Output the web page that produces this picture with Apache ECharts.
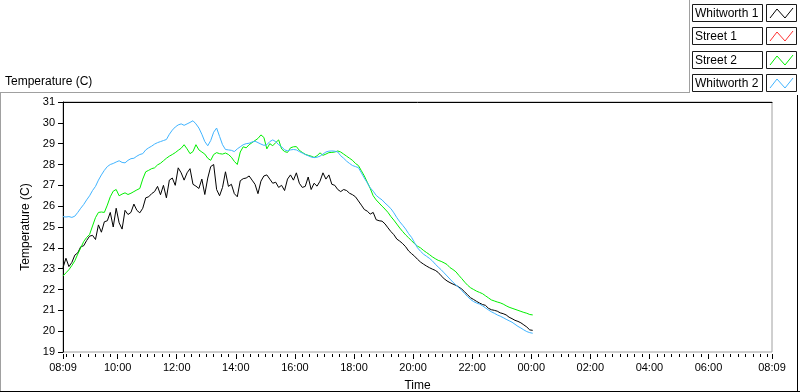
<!DOCTYPE html>
<html>
<head>
<meta charset="utf-8">
<title>Temperature (C)</title>
<script src="https://cdn.jsdelivr.net/npm/echarts@6/dist/echarts.min.js"></script>
<style>
  html, body { margin: 0; padding: 0; background: #fff; }
  #chart { width: 800px; height: 392px; }
</style>
</head>
<body>
<div id="chart"></div>
<script>
// time axis: 24h window starting at 08:09, samples every 6 min
const START_TIME = '08:09'
const STEP_MIN = 6
const SPAN_MIN = 1440
const LABEL_TIMES = ['08:09', '10:00', '12:00', '14:00', '16:00', '18:00', '20:00', '22:00', '00:00', '02:00', '04:00', '06:00', '08:09']

const Y_MIN = 19
const Y_MAX = 31

const SERIES_NAMES = ['Whitworth 1', 'Street 1', 'Street 2', 'Whitworth 2']
const SERIES_COLORS = ['#000000', '#ff3030', '#00f000', '#40b4ff']

const whitworth1 = [
  23.05, 23.5, 23.1, 23.3, 23.65, 23.76, 24.05, 24.1, 24.35, 24.56,
  24.6, 24.4, 25.1, 24.75, 25.25, 25.3, 25.7, 25.0, 25.9, 25.2,
  24.9, 25.8, 25.6, 25.7, 26.1, 25.8, 25.68, 25.9, 26.4, 26.45,
  26.6, 26.7, 26.95, 26.55, 27.0, 26.4, 27.25, 27.35, 27.0, 27.84,
  27.6, 27.25, 27.6, 27.8, 27.05, 26.96, 26.85, 27.3, 26.56, 27.35,
  27.9, 28.0, 26.8, 26.5, 26.9, 27.65, 26.95, 27.05, 26.6, 26.45,
  27.22, 27.32, 27.35, 27.45, 27.25, 27.05, 26.6, 27.2, 27.45, 27.5,
  27.3, 27.1, 27.15, 26.9, 27.0, 26.75, 27.3, 27.5, 27.25, 27.6,
  27.1, 26.9, 26.95, 27.4, 26.8, 27.1, 26.96, 27.2, 27.6, 27.3,
  27.5, 27.05, 27.0, 26.8, 26.7, 26.8, 26.75, 26.62, 26.55, 26.45,
  26.25, 26.05, 25.84, 25.76, 25.62, 25.7, 25.35, 25.3, 25.28, 25.15,
  24.96, 24.78, 24.63, 24.42, 24.32, 24.2, 24.05, 23.85, 23.72, 23.6,
  23.45, 23.32, 23.22, 23.13, 23.05, 22.98, 22.92, 22.82, 22.66, 22.52,
  22.41, 22.33, 22.26, 22.2, 22.12, 22.02, 21.88, 21.74, 21.6, 21.52,
  21.43, 21.35, 21.28, 21.24, 21.1, 21.03, 21.0, 20.96, 20.88, 20.84,
  20.78, 20.67, 20.6, 20.52, 20.47, 20.4, 20.3, 20.2, 20.06, 20.04
]

// no readings for Street 1 in this window
const street1 = []

const street2 = [
  22.65, 22.8, 22.95, 23.15, 23.38, 23.7, 24.0, 24.3, 24.5, 24.64,
  25.05, 25.45, 25.7, 25.72, 25.7, 26.05, 26.45, 26.72, 26.8, 26.5,
  26.58, 26.64, 26.56, 26.62, 26.7, 26.78, 26.85, 27.3, 27.65, 27.72,
  27.8, 27.84, 27.98, 28.06, 28.18, 28.3, 28.4, 28.48, 28.57, 28.68,
  28.78, 28.95, 28.75, 28.52, 28.62, 28.95, 28.7, 28.6, 28.5, 28.3,
  28.2, 28.48, 28.57, 28.52, 28.5, 28.55, 28.48, 28.35, 28.15, 28.0,
  28.6, 28.85, 28.8, 28.95, 29.05, 29.15, 29.25, 29.42, 29.3, 28.75,
  29.0, 28.9, 29.05, 29.18, 28.75, 28.62, 28.58, 28.8, 28.85, 28.86,
  28.68, 28.58, 28.49, 28.44, 28.4, 28.34, 28.42, 28.56, 28.44, 28.5,
  28.57, 28.58, 28.6, 28.65, 28.6, 28.5, 28.4, 28.3, 28.2, 28.05,
  27.95, 27.7, 27.45, 27.15, 26.85, 26.5, 26.3, 26.15, 26.0, 25.86,
  25.7, 25.5, 25.33, 25.14, 24.95, 24.78, 24.62, 24.48, 24.34, 24.2,
  24.08, 24.0, 23.88, 23.78, 23.68, 23.57, 23.48, 23.4, 23.35, 23.28,
  23.2, 23.05, 22.96, 22.85, 22.68, 22.52, 22.35, 22.2, 22.08, 22.0,
  21.92, 21.86, 21.8, 21.7, 21.6, 21.5, 21.45, 21.4, 21.36, 21.3,
  21.22, 21.15, 21.1, 21.05, 21.0, 20.95, 20.9, 20.86, 20.8, 20.78
]

const whitworth2 = [
  25.5, 25.48, 25.5, 25.46, 25.52, 25.7, 25.9, 26.08, 26.3, 26.5,
  26.75, 26.95, 27.25, 27.5, 27.72, 27.9, 28.0, 28.05, 28.12, 28.18,
  28.1, 28.08, 28.2, 28.28, 28.3, 28.4, 28.48, 28.52, 28.7, 28.8,
  28.88, 28.98, 29.05, 29.1, 29.15, 29.2, 29.45, 29.65, 29.8, 29.9,
  29.95, 29.88, 29.95, 30.02, 30.1, 29.95, 29.75, 29.45, 29.1, 28.9,
  29.15, 29.55, 29.75, 29.35, 28.95, 28.72, 28.7, 28.68, 28.62, 28.75,
  28.85, 28.95, 29.0, 29.02, 29.08, 29.12, 29.05, 28.98, 28.92, 28.95,
  29.1, 29.18, 29.1, 28.95, 28.85, 28.7, 28.66, 28.7, 28.72, 28.7,
  28.62, 28.55, 28.48, 28.42, 28.36, 28.33, 28.35, 28.4, 28.5, 28.6,
  28.64, 28.65, 28.64, 28.6, 28.42, 28.3, 28.16, 28.05, 27.95, 27.9,
  27.85, 27.6, 27.35, 27.12, 26.88, 26.72, 26.52, 26.4, 26.3, 26.15,
  26.02, 25.88, 25.68, 25.45, 25.25, 25.08, 24.9, 24.68, 24.5, 24.25,
  24.0, 23.84, 23.7, 23.6, 23.5, 23.38, 23.22, 23.08, 22.95, 22.8,
  22.65, 22.5, 22.35, 22.22, 22.1, 21.95, 21.8, 21.65, 21.52, 21.42,
  21.35, 21.3, 21.22, 21.12, 21.02, 20.93, 20.86, 20.78, 20.72, 20.65,
  20.57, 20.5, 20.43, 20.33, 20.23, 20.15, 20.06, 19.98, 19.93, 19.9
]

const SERIES_VALUES = [whitworth1, street1, street2, whitworth2]

const FONT = '"Liberation Sans", Arial, sans-serif'

const toMin = s => { const [h, m] = s.split(':').map(Number); return h * 60 + m }
const startMin = toMin(START_TIME)
const pad = n => String(n).padStart(2, '0')
const clock = v => {
  const m = (startMin + Math.round(v)) % 1440
  return pad(Math.floor(m / 60)) + ':' + pad(m % 60)
}

const labelOffsets = LABEL_TIMES.map((t, i) => {
  const off = (toMin(t) - startMin + 1440) % 1440
  return i > 0 && off === 0 ? SPAN_MIN : off
})

// minor ticks on every quarter hour
const minorTicks = []
for (let v = (15 - startMin % 15) % 15; v <= SPAN_MIN; v += 15) minorTicks.push(v)

const chart = echarts.init(document.getElementById('chart'), null, { renderer: 'canvas' })

// legend boxes, LabVIEW style
const LEGEND_TOPS = [4, 27, 51, 74]
const legendGraphics = []
SERIES_NAMES.forEach((name, i) => {
  const top = LEGEND_TOPS[i]
  legendGraphics.push(
    { type: 'rect', shape: { x: 692.5, y: top + 0.5, width: 70, height: 17 }, style: { fill: '#fff', stroke: '#1a1a1a', lineWidth: 1 } },
    { type: 'text', x: 695, y: top + 10, style: { text: name, font: '12px ' + FONT, fill: '#000', verticalAlign: 'middle' } },
    { type: 'rect', shape: { x: 766.5, y: top + 0.5, width: 30, height: 17 }, style: { fill: '#fff', stroke: '#1a1a1a', lineWidth: 1 } },
    { type: 'polyline', shape: { points: [[770, top + 14], [777, top + 5], [785, top + 14], [793, top + 4]] }, style: { stroke: SERIES_COLORS[i], lineWidth: 1, fill: null } }
  )
})

const option = {
  animation: false,
  backgroundColor: '#fff',
  textStyle: { fontFamily: FONT },
  grid: {
    left: 63,
    right: 28,
    top: 102,
    bottom: 40,
    outerBoundsMode: 'none',
    containLabel: false,
    show: true,
    borderColor: '#a0a0a0',
    borderWidth: 1,
    backgroundColor: '#fff'
  },
  graphic: [
    { type: 'text', left: 5, top: 76, style: { text: 'Temperature (C)', font: '12px ' + FONT, fill: '#000' } },
    { type: 'line', shape: { x1: 0, y1: 92.5, x2: 690, y2: 92.5 }, style: { stroke: '#a0a0a0', lineWidth: 1 } },
    { type: 'line', shape: { x1: 689.5, y1: 0, x2: 689.5, y2: 93 }, style: { stroke: '#a0a0a0', lineWidth: 1 } },
    { type: 'line', shape: { x1: 0.5, y1: 92.5, x2: 0.5, y2: 392 }, style: { stroke: '#a0a0a0', lineWidth: 1 } },
    { type: 'line', shape: { x1: 0, y1: 391.5, x2: 800, y2: 391.5 }, style: { stroke: '#000', lineWidth: 1 } },
    { type: 'line', shape: { x1: 797.5, y1: 95, x2: 797.5, y2: 392 }, style: { stroke: '#000', lineWidth: 1 } },
    ...legendGraphics
  ],
  xAxis: [
    {
      type: 'value',
      position: 'bottom',
      min: 0,
      max: SPAN_MIN,
      offset: 2,
      name: 'Time',
      nameLocation: 'middle',
      nameGap: 26,
      nameTextStyle: { color: '#000', fontSize: 12 },
      axisLine: { show: false },
      axisTick: { show: true, customValues: labelOffsets, length: 5, lineStyle: { color: '#000' } },
      axisLabel: { customValues: labelOffsets, formatter: clock, color: '#000', fontSize: 11, margin: 8 },
      splitLine: { show: false }
    },
    {
      type: 'value',
      position: 'bottom',
      min: 0,
      max: SPAN_MIN,
      offset: 2,
      axisLine: { show: false },
      axisTick: { show: true, customValues: minorTicks, length: 3, lineStyle: { color: '#000' } },
      axisLabel: { show: false },
      splitLine: { show: false }
    },
    {
      type: 'value',
      position: 'top',
      min: 0,
      max: SPAN_MIN,
      axisLine: { show: true, lineStyle: { color: '#000' } },
      axisTick: { show: false },
      axisLabel: { show: false },
      splitLine: { show: false }
    }
  ],
  yAxis: {
    type: 'value',
    min: Y_MIN,
    max: Y_MAX,
    interval: 1,
    name: 'Temperature (C)',
    nameLocation: 'middle',
    nameGap: 21,
    nameTextStyle: { color: '#000', fontSize: 12 },
    axisLine: { show: true, lineStyle: { color: '#000' } },
    axisTick: { show: true, length: 5, lineStyle: { color: '#000' } },
    axisLabel: { color: '#000', fontSize: 11, margin: 8 },
    splitLine: { show: false }
  },
  series: SERIES_NAMES.map((name, i) => ({
    name,
    type: 'line',
    xAxisIndex: 0,
    showSymbol: false,
    symbol: 'none',
    lineStyle: { width: 1, color: SERIES_COLORS[i] },
    itemStyle: { color: SERIES_COLORS[i] },
    data: SERIES_VALUES[i].map((v, k) => [k * STEP_MIN, v])
  }))
}

chart.setOption(option)
</script>
</body>
</html>
